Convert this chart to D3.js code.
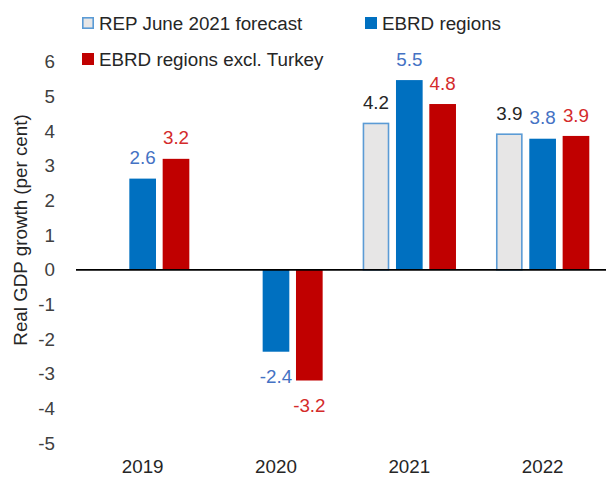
<!DOCTYPE html>
<html><head><meta charset="utf-8">
<script src="https://cdn.jsdelivr.net/npm/d3@7"></script>
<style>body{margin:0;background:#fff}svg{display:block}text{font-family:"Liberation Sans",Arial,sans-serif}</style>
</head><body>
<svg id="chart" width="606" height="478"></svg>
<script>
const years = ["2019","2020","2021","2022"];
const seriesNames = ["REP June 2021 forecast","EBRD regions","EBRD regions excl. Turkey"];
const repForecast = [null, null, 4.22, 3.91];
const ebrdRegions = [2.63, -2.36, 5.47, 3.78];
const ebrdExclTurkey = [3.2, -3.19, 4.78, 3.86];
const yTicks = [6,5,4,3,2,1,0,-1,-2,-3,-4,-5];

const seriesValues = [repForecast, ebrdRegions, ebrdExclTurkey];
const fills = ["#e7e6e6","#0070c0","#c00000"];
const strokes = ["#5b9bd5","none","none"];
const labelColors = ["#262626","#4472c4","#d42b2b"];

const svg = d3.select("#chart");
const fs = 18.8;
const hyph = s => s.replace("\u2212", "-");

const x = d3.scaleBand().domain(years).range([76, 609.3]).padding(0);
const xi = d3.scaleBand().domain(seriesNames).range([0, x.bandwidth()]).paddingInner(0.2).paddingOuter(0.6);
const y = d3.scaleLinear().domain([-5, 6]).range([443.3, 61.7]);

// y tick labels
const yAxis = d3.axisLeft(y).tickValues(yTicks).tickSize(0).tickPadding(0).tickFormat(d => hyph(d3.format("d")(d)));
const ya = svg.append("g").attr("transform","translate(55,0)").call(yAxis);
ya.select(".domain").remove();
ya.selectAll("text").attr("font-size", fs).attr("fill","#404040").style("font-family",'"Liberation Sans",Arial,sans-serif');

// y title
svg.append("text").attr("transform","translate(27,230) rotate(-90)")
  .attr("text-anchor","middle").attr("font-size", fs).attr("fill","#262626")
  .text("Real GDP growth (per cent)");

// data rows
const rows = [];
seriesNames.forEach((s,si)=>{
  years.forEach((yr,yi)=>{
    const v = seriesValues[si][yi];
    if (v !== null) rows.push({s, si, yr, v});
  });
});

svg.append("g").selectAll("rect").data(rows).join("rect")
  .attr("x", d => x(d.yr) + xi(d.s) + (d.si===0 ? 0.8 : 0))
  .attr("width", d => xi.bandwidth() - (d.si===0 ? 1.6 : 0))
  .attr("y", d => Math.min(y(d.v), y(0)))
  .attr("height", d => Math.abs(y(d.v) - y(0)))
  .attr("fill", d => fills[d.si])
  .attr("stroke", d => strokes[d.si])
  .attr("stroke-width", 1.6);

// zero line
svg.append("line").attr("x1", 76).attr("x2", 606).attr("y1", y(0)).attr("y2", y(0))
  .attr("stroke","#000").attr("stroke-width",1.6);

// value labels
const fmt = d3.format(".1f");
svg.append("g").selectAll("text").data(rows).join("text")
  .attr("x", d => x(d.yr) + xi(d.s) + xi.bandwidth()/2)
  .attr("y", d => d.v >= 0 ? y(d.v) - 21 : y(d.v) + 25)
  .attr("dy","0.35em")
  .attr("text-anchor","middle").attr("font-size", fs)
  .attr("fill", d => labelColors[d.si])
  .text(d => hyph(fmt(d.v)));

// x labels
const xAxis = d3.axisBottom(x).tickSize(0).tickPadding(0);
const xa = svg.append("g").attr("transform","translate(0,460)").call(xAxis);
xa.select(".domain").remove();
xa.selectAll("text").attr("font-size", fs).attr("fill","#262626").style("font-family",'"Liberation Sans",Arial,sans-serif');

// legend
const legendItems = [
  {name: seriesNames[0], si:0, lx:82, ly:23},
  {name: seriesNames[1], si:1, lx:365, ly:23},
  {name: seriesNames[2], si:2, lx:82, ly:59}
];
const lg = svg.append("g").selectAll("g").data(legendItems).join("g")
  .attr("transform", d => `translate(${d.lx},${d.ly})`);
lg.append("rect").attr("x", d => d.si===0 ? 0.8 : 0).attr("y", d => d.si===0 ? -5.2 : -6)
  .attr("width", d => d.si===0 ? 10.4 : 12).attr("height", d => d.si===0 ? 10.4 : 12)
  .attr("fill", d => fills[d.si]).attr("stroke", d => strokes[d.si]).attr("stroke-width",1.6);
lg.append("text").attr("x", 17).attr("dy","0.35em").attr("font-size", fs).attr("fill","#262626")
  .text(d => d.name);
</script>
</body></html>
